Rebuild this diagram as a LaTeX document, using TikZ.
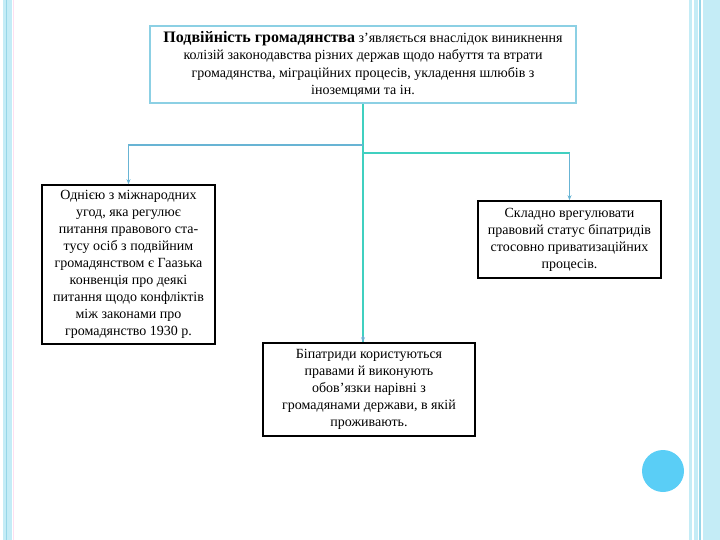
\documentclass[tikz,border=0pt]{standalone}
\usepackage{fontspec}
\setmainfont{Liberation Serif}
\usetikzlibrary{arrows.meta}
\definecolor{stripe}{RGB}{196,236,246}
\definecolor{stripedark}{RGB}{150,214,232}
\definecolor{frameblue}{RGB}{140,208,228}
\definecolor{trunkteal}{RGB}{64,208,192}
\definecolor{branchblue}{RGB}{104,180,212}
\definecolor{dotblue}{RGB}{90,206,246}
\tikzset{
  textbox/.style={draw=black, line width=1.6pt, fill=white, align=center, inner sep=1pt,
    font=\fontsize{14}{17}\selectfont},
  headbox/.style={draw=frameblue, line width=2.4pt, fill=white, align=center, inner sep=1pt,
    font=\fontsize{14}{17.5}\selectfont},
  trunk/.style={draw=trunkteal, line width=1.8pt},
  branch/.style={draw=branchblue, line width=1.4pt, -{Stealth[length=5pt,width=4pt]}}
}
\begin{document}
\begin{tikzpicture}[x=1pt,y=-1pt]
\useasboundingbox (0,0) rectangle (720,540);
% side stripes
\fill[stripe] (3,0) rectangle (12,540);
\draw[stripedark, line width=0.6pt] (6,0) -- (6,540);
\draw[magenta!12, line width=0.6pt] (13,0) -- (13,540);
\fill[stripe] (689,0) rectangle (692,540);
\fill[stripe] (694,0) rectangle (698,540);
\fill[stripedark] (699,0) rectangle (701,540);
\fill[stripe] (703,0) rectangle (720,540);
\fill[dotblue] (663,471) circle (21);
% boxes
\node[headbox, minimum width=426pt, minimum height=77pt] (head) at (363,64.5)
  {{\fontsize{16}{17.5}\selectfont\bfseries Подвійність громадянства} з’являється внаслідок виникнення\\
   колізій законодавства різних держав щодо набуття та втрати\\
   громадянства, міграційних процесів, укладення шлюбів з\\
   іноземцями та ін.};
\node[textbox, minimum width=173pt, minimum height=159pt] (conv) at (128.5,264.5)
  {Однією з міжнародних\\угод, яка регулює\\питання правового ста-\\тусу осіб з подвійним\\
   громадянством є Гаазька\\конвенція про деякі\\питання щодо конфліктів\\між законами про\\громадянство 1930~р.};
\node[textbox, minimum width=183pt, minimum height=77pt] (stat) at (569.5,239.5)
  {Складно врегулювати\\правовий статус біпатридів\\стосовно приватизаційних\\процесів.};
\node[textbox, minimum width=212pt, minimum height=93pt] (rights) at (369,389.5)
  {Біпатриди користуються\\правами й виконують\\обов’язки нарівні з\\громадянами держави, в якій\\проживають.};
% connectors
\coordinate (jl) at (363,145);
\coordinate (jr) at (363,153);
\draw[trunk] (head.south) -- (head.south |- rights.north);
\draw[branch] (head.south |- rights.north) ++(0,-6) -- (head.south |- rights.north);
\draw[branch] (jl) -| (conv.north);
\draw[trunk] (jr) -- (jr -| stat.north);
\draw[branch] (jr -| stat.north) -- (stat.north);
\end{tikzpicture}
\end{document}
